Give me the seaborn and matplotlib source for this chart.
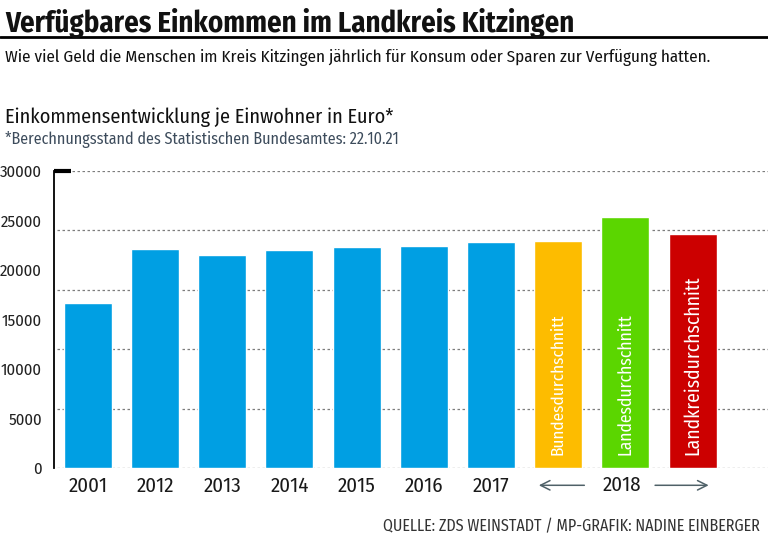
import matplotlib
matplotlib.use('Agg')
import matplotlib.pyplot as plt
import seaborn as sns

# Data
categories = ['2001', '2012', '2013', '2014', '2015', '2016', '2017',
              'Bundesdurchschnitt', 'Landesdurchschnitt', 'Landkreisdurchschnitt']
values = [16700, 22090, 21550, 21990, 22290, 22420, 22860, 22960, 25380, 23640]
bar_colors = ['#009fe3'] * 7 + ['#fdbc00', '#5bd600', '#cc0000']
year_labels = ['2001', '2012', '2013', '2014', '2015', '2016', '2017', '', '', '']
inside_labels = ['', '', '', '', '', '', '',
                 'Bundesdurchschnitt', 'Landesdurchschnitt', 'Landkreisdurchschnitt']
y_ticks = [0, 5000, 10000, 15000, 20000, 25000, 30000]
grid_levels = [0, 6000, 12000, 18000, 24000, 30000]

sns.set_theme(style='white')
plt.rcParams['font.family'] = ['Fira Sans Condensed', 'Roboto Condensed', 'PT Sans Narrow',
                               'Sofia Sans Condensed', 'DejaVu Sans']

fig = plt.figure(figsize=(7.68, 5.41), dpi=100)
ax = fig.add_axes([0.0707, 0.135, 0.93, 0.549])

sns.barplot(x=categories, y=values, hue=categories, palette=bar_colors,
            width=0.715, saturation=1, legend=False, ax=ax, zorder=3)

ax.set_xlim(-0.5, 10.13)
ax.set_ylim(0, 30000)

# dotted grid lines
for g in grid_levels:
    ax.axhline(g, xmin=0.004, color='#7d7d7d', linestyle=(0, (2, 2)), linewidth=0.9, zorder=1)
ax.plot([-0.5, -0.25], [30000, 30000], color='black', linewidth=3,
        solid_capstyle='butt', clip_on=False, zorder=4)

for s in ['top', 'right', 'bottom']:
    ax.spines[s].set_visible(False)
ax.spines['left'].set_color('black')
ax.spines['left'].set_linewidth(1.3)

ax.set_yticks(y_ticks)
ax.set_yticklabels([str(t) for t in y_ticks])
ax.tick_params(axis='y', length=0, pad=9, labelsize=12, labelcolor='#222222')
ax.set_xticks(range(len(categories)))
ax.set_xticklabels(year_labels)
ax.tick_params(axis='x', length=0, pad=6, labelsize=15, labelcolor='#1a1a1a')
ax.set_xlabel('')
ax.set_ylabel('')

# labels inside the 2018 bars
inside = []
for i, txt in enumerate(inside_labels):
    if txt:
        inside.append(ax.text(i, 1300, txt, rotation=90, ha='center', va='bottom',
                              color='white', fontsize=14, zorder=5))

# 2018 marker with arrows
ax.text(7.95, -1750, '2018', ha='center', va='center', fontsize=15, color='#1a1a1a')
arrow_props = dict(arrowstyle='->', color='#4f6168', lw=1.1, mutation_scale=17)
ax.annotate('', xy=(6.67, -1750), xytext=(7.43, -1750), arrowprops=arrow_props,
            annotation_clip=False)
ax.annotate('', xy=(9.28, -1750), xytext=(8.4, -1750), arrowprops=arrow_props,
            annotation_clip=False)

# header texts
title = fig.text(0.007, 0.985, 'Verfügbares Einkommen im Landkreis Kitzingen',
                 fontsize=21, fontweight='bold', color='#111111', va='top', ha='left')
fig.add_artist(plt.Line2D([0, 1], [0.931, 0.931], color='black', linewidth=2))
sub = fig.text(0.007, 0.91, 'Wie viel Geld die Menschen im Kreis Kitzingen jährlich für Konsum oder Sparen zur Verfügung hatten.',
               fontsize=12.5, color='#111111', va='top', ha='left')
head = fig.text(0.007, 0.802, 'Einkommensentwicklung je Einwohner in Euro*',
                fontsize=14.5, color='#111111', va='top', ha='left')
note = fig.text(0.007, 0.757, '*Berechnungsstand des Statistischen Bundesamtes: 22.10.21',
                fontsize=11, color='#3d4c5c', va='top', ha='left')
src = fig.text(0.99, 0.012, 'QUELLE: ZDS WEINSTADT / MP-GRAFIK: NADINE EINBERGER',
               fontsize=10, color='#333333', va='bottom', ha='right')

# scale texts to the widths seen in the reference
fig.canvas.draw()
renderer = fig.canvas.get_renderer()
for t, px in [(title, 570), (sub, 706), (head, 390), (note, 393), (src, 375)]:
    w = t.get_window_extent(renderer).width
    t.set_fontsize(t.get_fontsize() * px / w)
for t, px in zip(inside, [142, 142, 180]):
    h = t.get_window_extent(renderer).height
    t.set_fontsize(t.get_fontsize() * px / h)

fig.savefig('out.png', dpi=100)
